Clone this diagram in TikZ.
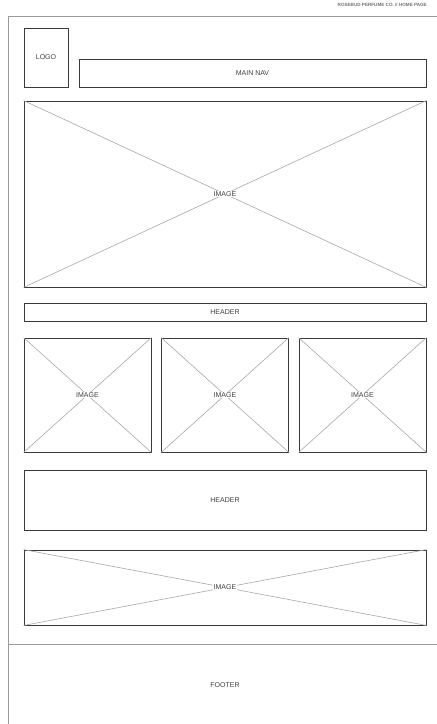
\documentclass[tikz,border=0pt]{standalone}
\usepackage{fontspec}
\setmainfont{Liberation Sans}
\usepackage{tikz}
\usetikzlibrary{positioning}
\definecolor{lineaOsc}{HTML}{3A3A3A}
\definecolor{lineaCl}{HTML}{A8A8A8}
\definecolor{textoGr}{HTML}{404040}

\tikzset{
  caja/.style={draw=lineaOsc, line width=0.9pt, inner sep=0pt},
  diag/.style={draw=lineaCl, line width=0.6pt},
  etiqueta/.style={text=textoGr, font=\fontsize{7}{8}\selectfont, inner sep=1pt, fill=white},
  marco/.style={draw=gray!80, line width=0.8pt}
}

\begin{document}
\begin{tikzpicture}[x=1pt, y=-1pt]

\useasboundingbox (0,0) rectangle (437,724);

% Marco
\coordinate (mA) at (8,16);
\coordinate (mB) at (437,16);
\coordinate (mC) at (8,724);
\coordinate (pA) at (8,644);
\coordinate (pB) at (437,644);
\draw[marco] (mB) -- (mA) -- (mC);
\draw[marco] (pA) -- (pB);

\node[anchor=east, text=gray!90!black, font=\bfseries\fontsize{4.6}{5}\selectfont, inner sep=0pt]
  (titulo) at (427,5) {ROSEBUD PERFUME CO. // HOME PAGE};

% Cabecera
\node[caja, minimum width=44pt, minimum height=59pt] (logo) at (46,57.5) {};
\node[etiqueta] at (logo) {LOGO};
\node[caja, minimum width=347pt, minimum height=28pt] (nav) at (252.5,73) {};
\node[etiqueta] at (nav) {MAIN NAV};

% Imagen principal
\node[caja, minimum width=402pt, minimum height=186pt] (hero) at (225,194) {};
\draw[diag] (hero.north west) -- (hero.south east);
\draw[diag] (hero.south west) -- (hero.north east);
\node[etiqueta] at (hero) {IMAGE};

\node[caja, minimum width=402pt, minimum height=18pt] (head1) at (225,312) {};
\node[etiqueta] at (head1) {HEADER};

% Tres imagenes
\foreach \i/\x in {1/87.5,2/225,3/362.5}{
    \node[caja, minimum width=127pt, minimum height=114pt] (img\i) at (\x,395) {};
    \draw[diag] (img\i.north west) -- (img\i.south east);
    \draw[diag] (img\i.south west) -- (img\i.north east);
    \node[etiqueta] at (img\i) {IMAGE};
}

\node[caja, minimum width=402pt, minimum height=60pt] (head2) at (225,500) {};
\node[etiqueta] at (head2) {HEADER};

% Banner
\node[caja, minimum width=402pt, minimum height=75pt] (banner) at (225,587.5) {};
\draw[diag] (banner.north west) -- (banner.south east);
\draw[diag] (banner.south west) -- (banner.north east);
\node[etiqueta] at (banner) {IMAGE};

% Pie
\node[etiqueta] (pie) at (225,685) {FOOTER};

\end{tikzpicture}
\end{document}
